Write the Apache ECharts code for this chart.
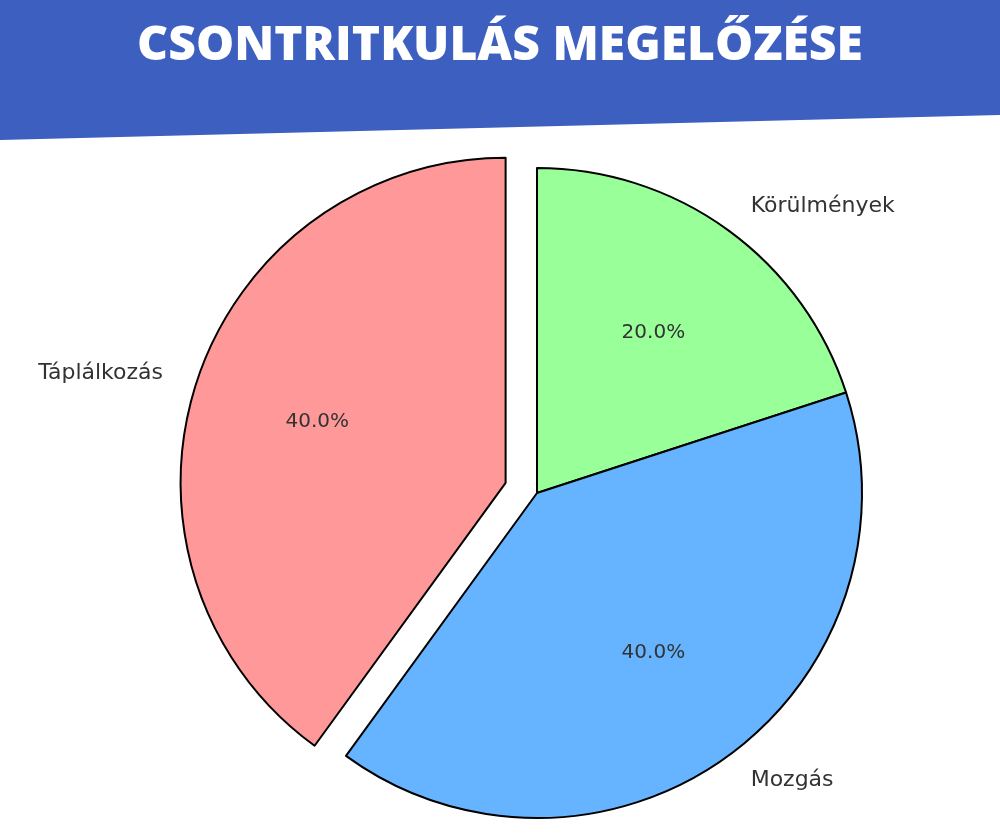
<!DOCTYPE html>
<html>
<head>
<meta charset="utf-8">
<script src="https://cdn.jsdelivr.net/npm/echarts@6/dist/echarts.min.js"></script>
<style>html,body{margin:0;padding:0;background:#fff}#chart{width:1000px;height:833px}</style>
</head>
<body>
<div id="chart"></div>
<script>
// adatok
var categories = ['Körülmények', 'Mozgás', 'Táplálkozás'];
var values = [20, 40, 40];
var colors = ['#99ff99', '#66b3ff', '#ff9999'];
var exploded = 'Táplálkozás';

var total = values.reduce(function (a, b) { return a + b; }, 0);

function makeData() {
	return categories.map(function (c, i) {
		return {
			name: c,
			value: values[i],
			selected: c === exploded,
			itemStyle: { color: colors[i] }
		};
	});
}

var chart = echarts.init(document.getElementById('chart'));
chart.setOption({
	animation: false,
	graphic: [{
		type: 'polygon',
		shape: { points: [[0, 0], [1000, 0], [1000, 115], [0, 140]] },
		style: { fill: '#3d5fc0' }
	}, {
		type: 'text',
		left: 'center',
		top: 22,
		style: {
			text: 'CSONTRITKULÁS MEGELŐZÉSE',
			fill: '#fff',
			font: '800 48px "Open Sans", sans-serif'
		}
	}],
	series: [
		{
			// szeletek + külső címkék
			type: 'pie',
			center: [537, 493],
			radius: 325,
			startAngle: 90,
			clockwise: true,
			selectedMode: 'single',
			selectedOffset: 33,
			itemStyle: { borderColor: '#000', borderWidth: 2 },
			label: {
				position: 'outside',
				color: '#333',
				fontSize: 22,
				fontFamily: 'DejaVu Sans'
			},
			labelLine: { show: false, length: 30, length2: 0 },
			data: makeData()
		},
		{
			// százalékos címkék
			type: 'pie',
			center: [537, 493],
			radius: 390,
			startAngle: 90,
			clockwise: true,
			silent: true,
			selectedMode: 'single',
			selectedOffset: 33,
			itemStyle: { color: 'transparent', borderWidth: 0 },
			label: {
				position: 'inside',
				color: '#333',
				fontSize: 20,
				fontFamily: 'DejaVu Sans',
				formatter: function (p) { return (p.value / total * 100).toFixed(1) + '%'; }
			},
			labelLine: { show: false },
			data: makeData().map(function (d) { d.itemStyle = { color: 'transparent' }; return d; })
		}
	]
});
</script>
</body>
</html>
